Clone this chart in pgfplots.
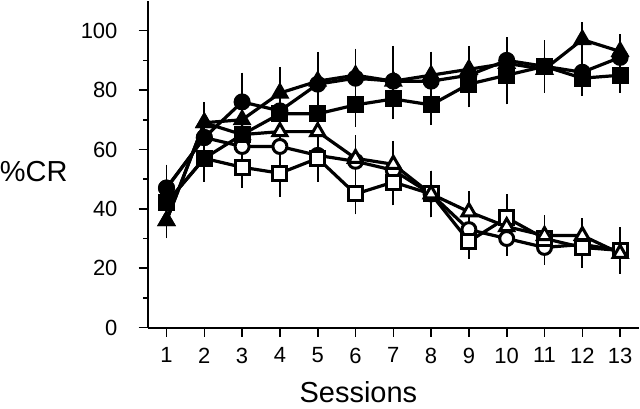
\documentclass[border=0pt]{standalone}
\usepackage{fontspec}
\setmainfont{Liberation Sans}
\usepackage{pgfplots}
\pgfplotsset{compat=1.18}
\usepackage{pgfplotstable}

\pgfplotstableread{
x  fc fce fs fse ft fte oc oce os ose ot ote
1  47 6   42 5   36 4   47 5   42 5   36 4
2  64 5   57 6   69 5   64 5   57 5   69 5
3  76 8   65 6   70 6   61 4   54 5   65 5
4  73 6   72 6   79 7   61 5   52 6   66 6
5  82 8   72 5   83 8   58 5   57 6   66 6
6  84 8   75 5.5 85 7   56 6   45 5   57 6
7  83 9   77 5   83 10  53 5   49 6   55 6
8  83 8   75 5   85 6   45 6   45 6   45 6
9  85 6   82 6   87 6   33 5   29 4   39 5
10 90 6   85 8   89 7   30 4   37 6   34 5
11 88 6   88 7   87 5   27 4   30 6   31 5
12 86 5   84 4   97 4   28 4   27 5   31 4
13 91 5   85 4   93 4   26 5   26 6   25 5
}\data

\begin{document}
\begin{tikzpicture}
\begin{axis}[
  scale only axis, width=492pt, height=327pt,
  xmin=0.5, xmax=13.5, ymin=0, ymax=110,
  axis x line*=bottom, axis y line*=left,
  axis line style={line width=2pt, black},
  xtick={1,...,13}, ytick={0,20,...,100},
  minor ytick={10,30,...,90},
  tick align=outside,
  major tick length=9pt, minor tick length=4.5pt,
  every tick/.style={line width=1.6pt, black},
  /pgf/number format/assume math mode=true,
  ticklabel style={font=\fontsize{22}{26}\selectfont},
  xticklabel style={anchor=north, inner sep=0pt, yshift=-11pt},
  yticklabel style={anchor=east, inner sep=0pt, xshift=-21pt},
  xlabel={Sessions}, ylabel={\%CR},
  every axis x label/.style={at={(axis description cs:0.429,0)}, anchor=base, yshift=-75pt, inner xsep=0pt, inner ysep=6pt, font=\fontsize{29}{34}\selectfont},
  every axis y label/.style={at={(axis description cs:-0.3008,0.477)}, anchor=west, inner sep=0pt, font=\fontsize{29}{34}\selectfont},
  clip=false,
  every axis plot/.append style={black, line width=3.2pt},
  error bars/y dir=both, error bars/y explicit,
  error bars/error bar style={line width=1.8pt, black},
  error bars/error mark options={line width=1.8pt, mark size=5.5pt, black},
]
% open series
\addplot[mark=*, mark size=7pt, mark options={fill=white, draw=black, line width=3pt}] table[x=x, y=oc, y error=oce] {\data};
\addplot[mark=square*, mark size=7pt, mark options={fill=white, draw=black, line width=3pt}] table[x=x, y=os, y error=ose] {\data};
\addplot[mark=triangle*, mark size=8pt, mark options={fill=white, draw=black, line width=3pt}] table[x=x, y=ot, y error=ote] {\data};
% filled series
\addplot[mark=square*, mark size=7pt, mark options={fill=black, draw=black, line width=3pt}] table[x=x, y=fs, y error=fse] {\data};
\addplot[mark=*, mark size=7pt, mark options={fill=black, draw=black, line width=3pt}] table[x=x, y=fc, y error=fce] {\data};
\addplot[mark=triangle*, mark size=8pt, mark options={fill=black, draw=black, line width=3pt}] table[x=x, y=ft, y error=fte] {\data};
\end{axis}
\end{tikzpicture}
\end{document}
